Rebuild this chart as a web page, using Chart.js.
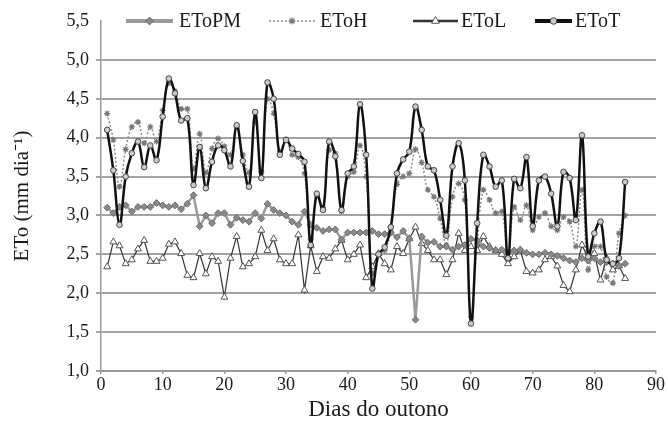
<!DOCTYPE html>
<html>
<head>
<meta charset="utf-8">
<script src="https://cdn.jsdelivr.net/npm/chart.js@4.4.0/dist/chart.umd.min.js"></script>
<style>
html, body { margin: 0; padding: 0; background: #fff; }
#wrap { width: 668px; height: 426px; }
</style>
</head>
<body>
<div id="wrap"><canvas id="grafico-eto" width="668" height="426"></canvas></div>
<script>
// DADOS
var dias = [1, 2, 3, 4, 5, 6, 7, 8, 9, 10, 11, 12, 13, 14, 15, 16, 17, 18, 19, 20,
    21, 22, 23, 24, 25, 26, 27, 28, 29, 30, 31, 32, 33, 34, 35, 36, 37, 38, 39, 40,
    41, 42, 43, 44, 45, 46, 47, 48, 49, 50, 51, 52, 53, 54, 55, 56, 57, 58, 59, 60,
    61, 62, 63, 64, 65, 66, 67, 68, 69, 70, 71, 72, 73, 74, 75, 76, 77, 78, 79, 80,
    81, 82, 83, 84, 85];

var etoPM = [3.10, 3.03, 3.11, 3.13, 3.05, 3.11, 3.11, 3.11, 3.16, 3.13,
    3.11, 3.13, 3.08, 3.15, 3.26, 2.86, 3.00, 2.90, 3.03, 3.03,
    2.88, 2.97, 2.94, 2.92, 3.03, 2.96, 3.15, 3.07, 3.03, 3.00,
    2.92, 2.88, 3.05, 2.88, 2.84, 2.80, 2.82, 2.82, 2.69, 2.78,
    2.78, 2.78, 2.78, 2.80, 2.76, 2.76, 2.78, 2.72, 2.80, 2.70,
    1.66, 2.73, 2.65, 2.66, 2.60, 2.60, 2.56, 2.60, 2.62, 2.70,
    2.68, 2.60, 2.58, 2.55, 2.56, 2.52, 2.55, 2.56, 2.52, 2.50,
    2.50, 2.52, 2.50, 2.48, 2.45, 2.42, 2.40, 2.45, 2.42, 2.45,
    2.40, 2.40, 2.38, 2.35, 2.38];

var etoH = [4.31, 3.97, 3.37, 3.85, 4.14, 4.20, 3.93, 4.14, 3.95, 4.35,
    4.70, 4.60, 4.37, 4.37, 3.60, 4.05, 3.55, 3.86, 3.99, 3.89,
    3.78, 4.14, 3.78, 3.55, 4.20, 3.56, 4.50, 4.31, 3.82, 3.98,
    3.78, 3.75, 3.54, 2.70, 3.25, 3.10, 3.84, 3.80, 3.05, 3.50,
    3.56, 3.90, 3.50, 2.25, 2.50, 2.55, 2.80, 3.40, 3.50, 3.54,
    3.85, 3.68, 3.33, 3.24, 2.96, 2.62, 3.24, 3.41, 3.20, 1.70,
    2.64, 3.33, 3.20, 3.03, 3.05, 2.47, 3.11, 2.94, 3.13, 2.81,
    2.98, 3.03, 2.86, 2.81, 2.98, 2.92, 2.60, 3.33, 2.30, 2.60,
    2.60, 2.21, 2.13, 2.77, 3.00];

var etoL = [2.34, 2.66, 2.61, 2.38, 2.43, 2.57, 2.68, 2.41, 2.41, 2.45,
    2.63, 2.66, 2.51, 2.23, 2.20, 2.51, 2.25, 2.47, 2.41, 1.95,
    2.45, 2.73, 2.34, 2.38, 2.47, 2.81, 2.55, 2.70, 2.43, 2.38,
    2.38, 2.75, 2.04, 2.61, 2.28, 2.47, 2.45, 2.57, 2.68, 2.43,
    2.50, 2.62, 2.20, 2.34, 2.51, 2.38, 2.30, 2.60, 2.51, 2.70,
    2.85, 2.64, 2.55, 2.43, 2.43, 2.24, 2.43, 2.77, 2.55, 2.60,
    2.55, 2.73, 2.60, 2.55, 2.50, 2.38, 2.47, 2.55, 2.28, 2.26,
    2.30, 2.43, 2.47, 2.35, 2.10, 2.02, 2.30, 2.62, 2.45, 2.51,
    2.17, 2.45, 2.30, 2.35, 2.19];

var etoT = [4.10, 3.58, 2.88, 3.50, 3.80, 3.95, 3.62, 3.90, 3.71, 4.27,
    4.76, 4.57, 4.22, 4.25, 3.39, 3.88, 3.35, 3.69, 3.90, 3.84,
    3.63, 4.16, 3.70, 3.37, 4.33, 3.48, 4.71, 4.50, 3.78, 3.97,
    3.86, 3.79, 3.69, 2.62, 3.28, 3.07, 3.95, 3.76, 3.07, 3.54,
    3.63, 4.43, 3.78, 2.06, 2.50, 2.59, 2.85, 3.54, 3.72, 3.82,
    4.40, 4.10, 3.63, 3.58, 3.20, 2.74, 3.63, 3.93, 3.45, 1.61,
    2.90, 3.78, 3.63, 3.37, 3.45, 2.45, 3.47, 3.35, 3.75, 2.86,
    3.45, 3.50, 3.28, 2.86, 3.56, 3.48, 2.94, 4.03, 2.47, 2.77,
    2.92, 2.43, 2.38, 2.45, 3.43];

var ticksX = [0, 10, 20, 30, 40, 50, 60, 70, 80, 90];
var ticksY = [1.0, 1.5, 2.0, 2.5, 3.0, 3.5, 4.0, 4.5, 5.0, 5.5];
var rotulosY = ['1,0', '1,5', '2,0', '2,5', '3,0', '3,5', '4,0', '4,5', '5,0', '5,5'];

function pontos(valores) {
    return valores.map(function(v, i) { return { x: dias[i], y: v }; });
}

Chart.defaults.font.family = "'Liberation Serif', 'Times New Roman', serif";
Chart.defaults.color = '#1a1a1a';

// legenda desenhada dentro da area do grafico, no topo
var legendaInterna = {
    id: 'legendaInterna',
    afterDraw: function(chart) {
        var ctx = chart.ctx;
        var y = chart.chartArea.top;
        var itens = [
            { ds: 0, x0: 126, x1: 173, tx: 179 },
            { ds: 1, x0: 269, x1: 315, tx: 320 },
            { ds: 2, x0: 413, x1: 458, tx: 461 },
            { ds: 3, x0: 535, x1: 572, tx: 575 }
        ];
        ctx.save();
        itens.forEach(function(it) {
            var d = chart.data.datasets[it.ds];
            ctx.fillStyle = '#fff';
            ctx.fillRect(it.x0 - 2, y - 11, it.tx - it.x0 + 66, 22);
            ctx.beginPath();
            ctx.strokeStyle = d.borderColor;
            ctx.lineWidth = d.borderWidth + (it.ds === 1 ? 0 : 1.5);
            ctx.setLineDash(d.borderDash || []);
            ctx.moveTo(it.x0, y);
            ctx.lineTo(it.x1, y);
            ctx.stroke();
            ctx.setLineDash([]);
            ctx.fillStyle = d.pointBackgroundColor;
            ctx.strokeStyle = d.pointBorderColor;
            ctx.lineWidth = d.pointBorderWidth;
            Chart.helpers.drawPoint(ctx, {
                pointStyle: d.pointStyle,
                radius: d.pointRadius + 0.5,
                borderWidth: d.pointBorderWidth,
                rotation: 0
            }, (it.x0 + it.x1) / 2, y);
            ctx.fillStyle = '#1a1a1a';
            ctx.font = "20px 'Liberation Serif', serif";
            ctx.textBaseline = 'middle';
            ctx.fillText(d.label, it.tx, y + 1);
        });
        ctx.restore();
    }
};

var graficoCtx = document.getElementById('grafico-eto').getContext('2d');

var graficoEto = new Chart(graficoCtx, {
    type: 'line',
    data: {
        datasets: [{
            label: 'EToPM',
            data: pontos(etoPM),
            borderColor: '#9a9a9a',
            borderWidth: 2.5,
            pointStyle: 'rectRot',
            pointRadius: 3.4,
            pointBackgroundColor: '#8a8a8a',
            pointBorderColor: '#6a6a6a',
            pointBorderWidth: 1,
            tension: 0,
            order: 1
        }, {
            label: 'EToH',
            data: pontos(etoH),
            borderColor: '#8c8c8c',
            borderWidth: 1.5,
            borderDash: [2, 2],
            pointStyle: 'star',
            pointRadius: 3,
            pointBackgroundColor: '#bbbbbb',
            pointBorderColor: '#777777',
            pointBorderWidth: 1.2,
            tension: 0.4,
            order: 3
        }, {
            label: 'EToL',
            data: pontos(etoL),
            borderColor: '#333333',
            borderWidth: 1.2,
            pointStyle: 'triangle',
            pointRadius: 4,
            pointBackgroundColor: '#ffffff',
            pointBorderColor: '#555555',
            pointBorderWidth: 1,
            tension: 0,
            order: 2
        }, {
            label: 'EToT',
            data: pontos(etoT),
            borderColor: '#111111',
            borderWidth: 2.5,
            pointStyle: 'circle',
            pointRadius: 2.8,
            pointBackgroundColor: '#cccccc',
            pointBorderColor: '#444444',
            pointBorderWidth: 1,
            tension: 0.4,
            order: 0
        }]
    },
    options: {
        responsive: false,
        animation: false,
        layout: {
            padding: { top: 21, right: 12, bottom: 0, left: 0 }
        },
        scales: {
            x: {
                type: 'linear',
                min: 0,
                max: 90,
                afterFit: function(s) { s.height = 55; },
                afterBuildTicks: function(s) {
                    s.ticks = ticksX.map(function(v) { return { value: v }; });
                },
                ticks: {
                    font: { size: 18 },
                    color: '#1a1a1a',
                    padding: 0,
                    maxRotation: 0
                },
                grid: {
                    drawOnChartArea: false,
                    tickLength: 3,
                    color: '#9a9a9a',
                    lineWidth: 1.5
                },
                border: { color: '#9a9a9a', width: 2 },
                title: {
                    display: true,
                    text: 'Dias do outono',
                    font: { size: 23 },
                    color: '#1a1a1a',
                    padding: { top: 0, bottom: 2 }
                }
            },
            y: {
                type: 'linear',
                min: 1,
                max: 5.5,
                afterFit: function(s) { s.width = 101; },
                afterBuildTicks: function(s) {
                    s.ticks = ticksY.map(function(v) { return { value: v }; });
                },
                ticks: {
                    font: { size: 18 },
                    color: '#1a1a1a',
                    padding: 7,
                    callback: function(v) { return rotulosY[ticksY.indexOf(v)]; }
                },
                grid: {
                    color: function(c) {
                        return c.tick && c.tick.value === 5.5 ? 'rgba(0,0,0,0)' : '#a3a3a3';
                    },
                    lineWidth: 2,
                    tickLength: 5
                },
                border: { color: '#9a9a9a', width: 1.5 },
                title: {
                    display: true,
                    text: 'ETo (mm dia⁻¹)',
                    font: { size: 21 },
                    color: '#1a1a1a',
                    padding: { top: 10, bottom: 0 }
                }
            }
        },
        plugins: {
            legend: { display: false },
            tooltip: { enabled: false }
        }
    },
    plugins: [legendaInterna]
});
</script>
</body>
</html>
